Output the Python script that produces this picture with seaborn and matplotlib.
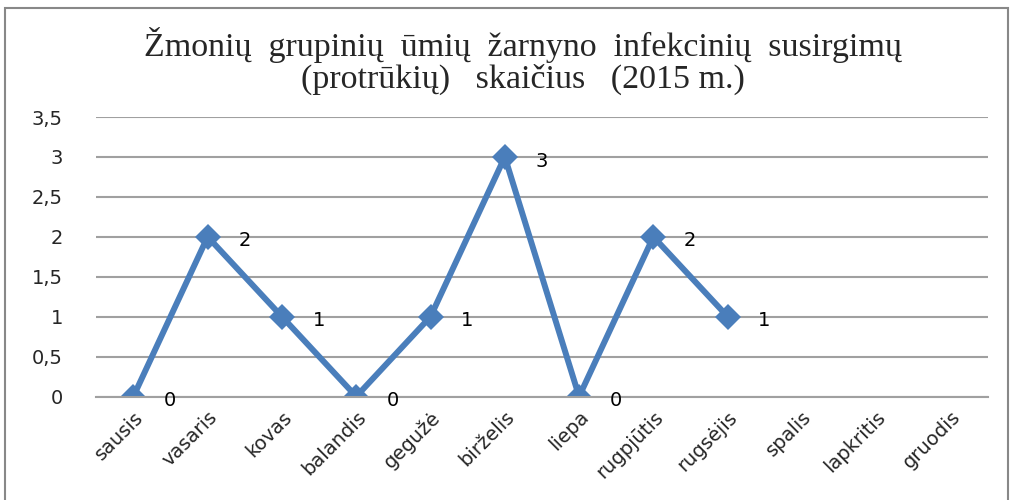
import numpy as np
import pandas as pd
import seaborn as sns
import matplotlib.pyplot as plt
from matplotlib.patches import Rectangle

months = ["sausis", "vasaris", "kovas", "balandis", "gegužė", "birželis",
          "liepa", "rugpjūtis", "rugsėjis", "spalis", "lapkritis", "gruodis"]
outbreaks = [0, 2, 1, 0, 1, 3, 0, 2, 1, np.nan, np.nan, np.nan]
yticks = [0, 0.5, 1, 1.5, 2, 2.5, 3, 3.5]
ytick_labels = ["0", "0,5", "1", "1,5", "2", "2,5", "3", "3,5"]
title = ("Žmonių  grupinių  ūmių  žarnyno  infekcinių  susirgimų\n"
         "(protrūkių)   skaičius   (2015 m.)")

sns.set_theme(style="white")
plt.rcParams['font.family'] = ['DejaVu Sans']

df = pd.DataFrame({"pos": np.arange(len(months)), "value": outbreaks})
line_color = "#4A7EBB"

fig = plt.figure(figsize=(10.13, 5.0), dpi=100)
ax = fig.add_axes([0.095, 0.207, 0.880, 0.559])

sns.lineplot(data=df.dropna(), x="pos", y="value", ax=ax, color=line_color,
             linewidth=4.3, marker="D", markersize=13, markeredgewidth=0)

for x, v in zip(df["pos"], df["value"]):
    if not np.isnan(v):
        ax.annotate(f"{int(v)}", (x, v), xytext=(22, -3), textcoords="offset points",
                    ha="left", va="center", fontsize=14, color="black")

ax.set_xlim(-0.5, len(months) - 0.5)
ax.set_ylim(0, 3.5)
ax.set_yticks(yticks)
ax.set_yticklabels(ytick_labels, fontsize=14)
ax.set_xticks(np.arange(len(months)))
ax.set_xticklabels(months, rotation=45, ha="right", rotation_mode="anchor", fontsize=14)
ax.tick_params(axis="y", length=0, pad=24)
ax.tick_params(axis="x", length=0, pad=8)
ax.set_xlabel("")
ax.set_ylabel("")
ax.yaxis.grid(True, color="#A0A0A0", linewidth=1.5)
ax.set_axisbelow(True)
for side in ["left", "right", "top"]:
    ax.spines[side].set_visible(False)
ax.spines["bottom"].set_color("#A0A0A0")
ax.spines["bottom"].set_linewidth(1.5)

fig.text(0.516, 0.878, title, ha="center", va="center", fontsize=24.5,
         family=["Liberation Serif", "DejaVu Serif"], linespacing=1.0)

fig.patches.append(Rectangle((0.005, -0.02), 0.99, 1.004, transform=fig.transFigure,
                             fill=False, edgecolor="#888888", linewidth=1.5))

fig.savefig("out.png", dpi=100)
